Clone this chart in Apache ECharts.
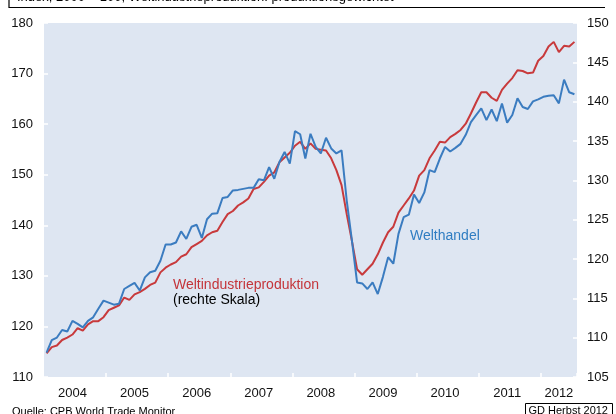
<!DOCTYPE html>
<html><head><meta charset="utf-8">
<script src="https://cdn.jsdelivr.net/npm/echarts@6/dist/echarts.min.js"></script>
<style>html,body{margin:0;padding:0;background:#fff}#c{width:616px;height:414px}</style>
</head><body><div id="c"></div>
<script>
// Categories: monthly, Jan 2004 - Jul 2012
const months = [];
for (let y = 2004; y <= 2012; y++) {
  for (let m = 1; m <= 12; m++) {
    if (y === 2012 && m > 7) break;
    months.push(y + '-' + (m < 10 ? '0' + m : m));
  }
}
// Welthandel (left scale)
const welthandel = [
  114.8,117.3,117.8,119.3,119.0,121.1,120.5,119.8,121.1,121.8,123.5,125.1,
  124.7,124.3,124.5,127.4,128.0,128.6,127.1,129.7,130.7,131.0,133.0,136.2,
  136.2,136.6,138.8,137.3,139.7,140.1,137.5,141.2,142.3,142.4,145.4,145.6,
  146.9,147.0,147.2,147.4,147.4,149.1,148.9,151.5,149.2,152.5,154.5,152.2,
  158.6,158.0,153.2,158.1,155.5,154.2,157.3,155.2,154.2,154.8,144.9,137.0,
  128.7,128.5,127.4,128.7,126.4,129.8,133.7,132.4,138.3,141.6,142.1,146.1,
  144.4,146.5,150.9,150.5,153.2,155.5,154.6,155.3,156.1,157.9,160.4,161.8,
  163.1,160.8,162.9,160.6,164.1,160.3,161.8,165.1,163.4,163.0,164.5,164.9,
  165.4,165.6,165.7,164.1,168.8,166.3,165.9
];
// Weltindustrieproduktion (right scale)
const industrie = [
  108.0,108.8,109.0,109.7,110.0,110.4,111.2,110.9,111.7,112.1,112.1,112.6,
  113.5,113.8,114.1,115.1,114.8,115.5,115.8,116.2,116.7,117.0,118.3,118.9,
  119.3,119.6,120.3,120.6,121.5,121.9,122.3,123.0,123.4,123.6,124.7,125.7,
  126.1,126.8,127.2,127.7,128.9,129.1,129.8,130.6,131.0,132.3,132.9,133.5,
  134.4,134.9,134.0,134.7,134.0,133.9,133.8,132.8,131.3,129.4,125.7,122.3,
  118.7,118.0,118.7,119.4,120.6,122.1,123.4,124.1,125.9,126.8,127.7,128.7,
  130.6,131.3,132.8,133.8,134.9,134.8,135.5,135.9,136.4,137.2,138.5,139.9,
  141.2,141.2,140.5,140.1,141.5,142.3,143.0,144.0,143.9,143.6,143.7,145.2,
  145.8,147.0,147.6,146.3,147.1,147.0,147.6
];
// Tick labels
const yearLabels = ['2004','2005','2006','2007','2008','2009','2010','2011','2012'];
const yearLabelMonths = ['2004-06','2005-06','2006-06','2007-06','2008-06','2009-06','2010-06','2011-06','2012-04'];

const chart = echarts.init(document.getElementById('c'), null, {renderer: 'canvas'});
const font = 'Liberation Sans, Arial, sans-serif';
const tickStyle = {show: true, inside: true, length: 4, lineStyle: {color: '#ffffff', width: 1.5}};
chart.setOption({
  animation: false,
  backgroundColor: '#ffffff',
  textStyle: {fontFamily: font},
  grid: {left: 44, right: 39, top: 23, bottom: 37, show: true, backgroundColor: '#dee6f2', borderWidth: 0},
  xAxis: {
    type: 'category', data: months, boundaryGap: true,
    axisLine: {show: false},
    axisTick: Object.assign({}, tickStyle, {interval: (i) => i > 0 && i % 12 === 0}),
    axisLabel: {
      interval: (i, v) => yearLabelMonths.indexOf(v) >= 0,
      formatter: (v) => yearLabels[yearLabelMonths.indexOf(v)],
      fontSize: 13, color: '#111', margin: 10, fontFamily: font
    },
    splitLine: {show: false}
  },
  yAxis: [
    {type: 'value', min: 110, max: 180, interval: 10, position: 'left',
     axisLine: {show: false}, axisTick: tickStyle, splitLine: {show: false},
     axisLabel: {fontSize: 13, color: '#111', margin: 11, fontFamily: font}},
    {type: 'value', min: 105, max: 150, interval: 5, position: 'right',
     axisLine: {show: false}, axisTick: tickStyle, splitLine: {show: false},
     axisLabel: {fontSize: 13, color: '#111', margin: 10, fontFamily: font}}
  ],
  series: [
    {name: 'Weltindustrieproduktion', type: 'line', yAxisIndex: 1, data: industrie,
     showSymbol: false, lineStyle: {color: '#c83a3c', width: 2}, itemStyle: {color: '#c83a3c'}},
    {name: 'Welthandel', type: 'line', yAxisIndex: 0, data: welthandel,
     showSymbol: false, lineStyle: {color: '#3b7cc0', width: 2}, itemStyle: {color: '#3b7cc0'}}
  ],
  graphic: [
    {type: 'polyline', shape: {points: [[9, -2], [9, 7.5], [605, 7.5]]}, style: {stroke: '#000', lineWidth: 1.2, fill: null}},
    {type: 'text', x: 17, y: 3.5, style: {text: 'Index, 2000 = 100; Weltindustrieproduktion: produktionsgewichtet', font: '13px ' + font, fill: '#000', verticalAlign: 'bottom'}},
    {type: 'text', x: 410, y: 236, style: {text: 'Welthandel', font: '14px ' + font, fill: '#2f7dc2', verticalAlign: 'middle'}},
    {type: 'text', x: 173, y: 285, style: {text: 'Weltindustrieproduktion', font: '14px ' + font, fill: '#c4343a', verticalAlign: 'middle'}},
    {type: 'text', x: 173, y: 300.5, style: {text: '(rechte Skala)', font: '14px ' + font, fill: '#000', verticalAlign: 'middle'}},
    {type: 'text', x: 12, y: 406, style: {text: 'Quelle: CPB World Trade Monitor', font: '11px ' + font, fill: '#000', verticalAlign: 'top'}},
    {type: 'rect', shape: {x: 525.5, y: 403.5, width: 87, height: 20}, style: {stroke: '#000', lineWidth: 1, fill: '#fff'}},
    {type: 'text', x: 528.5, y: 405, style: {text: 'GD Herbst 2012', font: '11px ' + font, fill: '#000', verticalAlign: 'top'}}
  ]
});
</script>
</body></html>
